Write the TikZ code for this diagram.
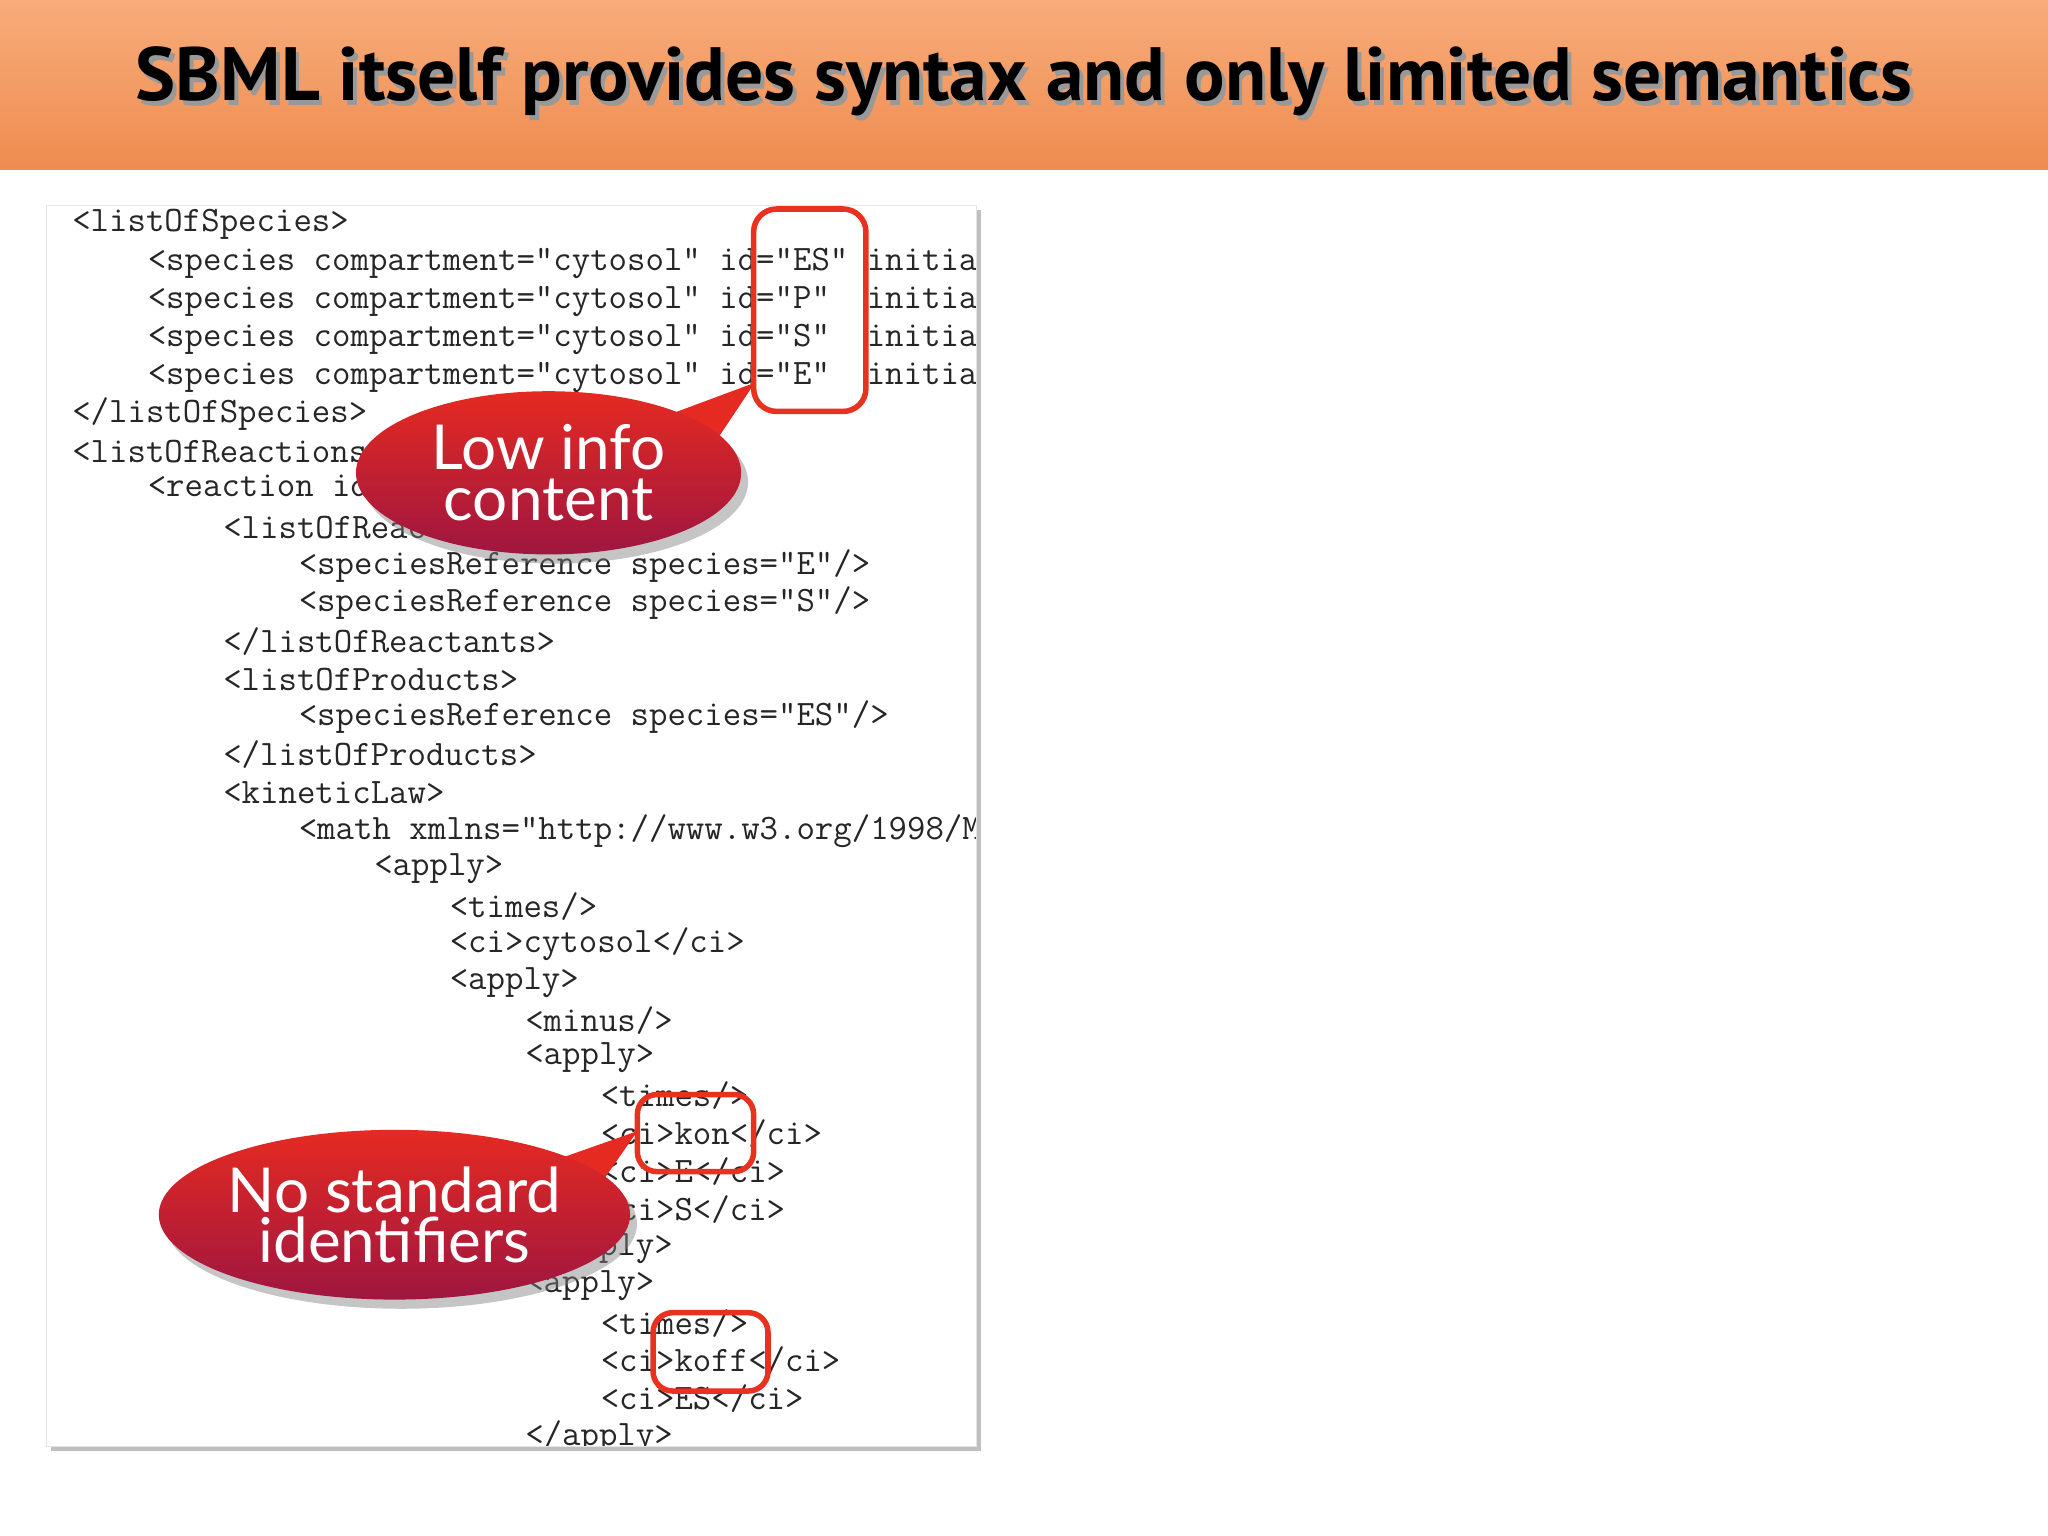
\documentclass[tikz,border=0pt]{standalone}
\usepackage{fontspec}
\setmainfont{Lato}
\newfontfamily\titlefont{PT Sans}
\usetikzlibrary{shadows,shapes.geometric}
\definecolor{hlred}{HTML}{E8321F}
\definecolor{ctop}{HTML}{E52A22}
\definecolor{cbot}{HTML}{9E1640}
\tikzset{
  codeline/.style={anchor=west,inner sep=0pt,font=\ttfamily\fontsize{15.6}{16}\selectfont,text=black!85},
  hlbox/.style={draw=hlred,line width=2.4pt,rounded corners=0.35cm},
  callout/.style={ellipse,top color=ctop,bottom color=cbot,text=white,align=center,
     font=\fontsize{27}{28}\selectfont,drop shadow={opacity=0.45,shadow xshift=3pt,shadow yshift=-4pt}},
}
\begin{document}
\begin{tikzpicture}[x=0.02cm,y=-0.02cm]
\useasboundingbox (0,0) rectangle (1568,1176);
\fill[white] (0,0) rectangle (1568,1176);
\shade[top color={rgb,255:red,247;green,172;blue,122}, bottom color={rgb,255:red,239;green,140;blue,80}] (0,0) rectangle (1568,130);
\node[text=black!40] (titleshadow) at (787,66) {\resizebox{27.2cm}{!}{\titlefont\bfseries\fontsize{30}{32}\selectfont SBML itself provides syntax and only limited semantics}};
\node (title) at (784,62) {\resizebox{27.2cm}{!}{\titlefont\bfseries\fontsize{30}{32}\selectfont SBML itself provides syntax and only limited semantics}};
\fill[black!25] (39,161) rectangle (751,1111);
\node[draw=black!10,fill=white,minimum width=14.24cm,minimum height=19cm,anchor=north west,inner sep=0pt] (codebox) at (35,157) {};
\begin{scope}
\clip (35,157) rectangle (747,1107);
\node[codeline] (l1) at (112.8,201) {<species compartment="cytosol" id="ES" initialAmount="0"/>};
\node[codeline] (l2) at (112.8,230) {<species compartment="cytosol" id="P"\ \ initialAmount="0"/>};
\node[codeline] (l3) at (112.8,259) {<species compartment="cytosol" id="S"\ \ initialAmount="0"/>};
\node[codeline] (l4) at (112.8,288) {<species compartment="cytosol" id="E"\ \ initialAmount="0"/>};
\foreach \i/\ind/\txt in {
0/0/{<listOfSpecies>},
5/0/{</listOfSpecies>},
6/0/{<listOfReactions>},
7/4/{<reaction id="veq">},
8/8/{<listOfReactants>},
9/12/{<speciesReference species="E"/>},
10/12/{<speciesReference species="S"/>},
11/8/{</listOfReactants>},
12/8/{<listOfProducts>},
13/12/{<speciesReference species="ES"/>},
14/8/{</listOfProducts>},
15/8/{<kineticLaw>},
16/12/{<math xmlns="http://www.w3.org/1998/Math/MathML">},
17/16/{<apply>},
18/20/{<times/>},
19/20/{<ci>cytosol</ci>},
20/20/{<apply>},
21/24/{<minus/>},
22/24/{<apply>},
23/28/{<times/>},
24/28/{<ci>kon</ci>},
25/28/{<ci>E</ci>},
26/28/{<ci>S</ci>},
27/24/{</apply>},
28/24/{<apply>},
29/28/{<times/>},
30/28/{<ci>koff</ci>},
31/28/{<ci>ES</ci>},
32/24/{</apply>}}
{\node[codeline] (l\i) at ({55+14.45*\ind},{172+29*\i}) {\expandafter\detokenize\expandafter{\txt}};}
\end{scope}
\node[hlbox,minimum width=1.72cm,minimum height=3.1cm] (hES) at (620,237.5) {};
\node[hlbox,minimum width=1.78cm,minimum height=1.18cm,rounded corners=0.3cm] (hkon) at (532.5,867.5) {};
\node[hlbox,minimum width=1.76cm,minimum height=1.2cm,rounded corners=0.3cm] (hkoff) at (544,1035) {};
\fill[ctop] (500,322) -- (578,293) -- (540,350) -- cycle;
\node[callout,minimum width=5.9cm,minimum height=2.5cm,inner sep=0pt] (c1) at (420,362) {Low info\\[-6pt]content};
\fill[ctop] (420,890) -- (488,866) -- (440,935) -- cycle;
\node[callout,minimum width=7.1cm,minimum height=2.6cm,inner sep=0pt] (c2) at (302,930) {No standard\\[-6pt]identifiers};
\end{tikzpicture}
\end{document}
